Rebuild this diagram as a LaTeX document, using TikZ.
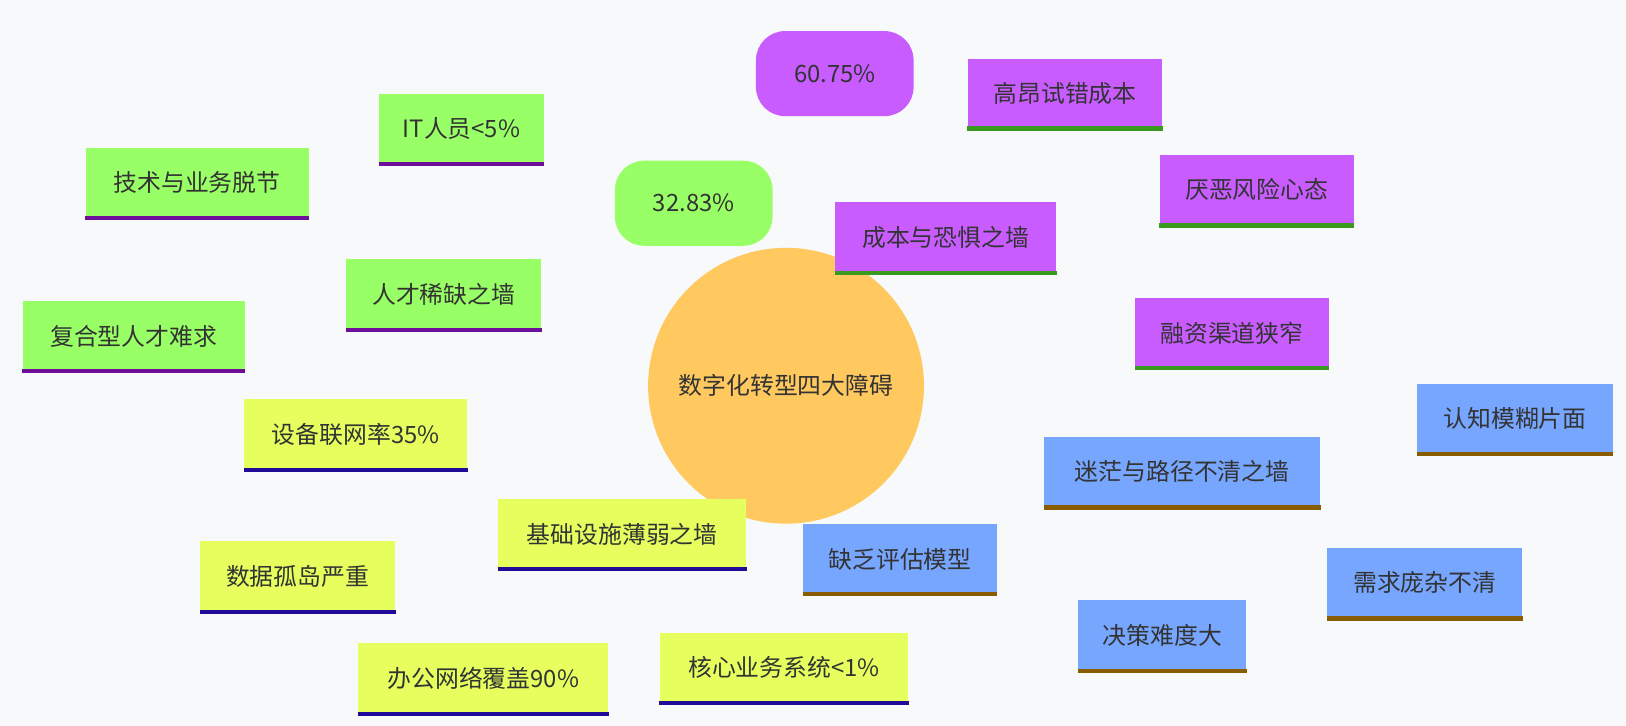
\documentclass[tikz,border=0pt]{standalone}
\usepackage{fontspec}
\setmainfont{Noto Sans CJK SC}
\usetikzlibrary{backgrounds}
\definecolor{bg}{HTML}{F8F9FA}
\definecolor{cG}{HTML}{99FF66}
\definecolor{cP}{HTML}{C85CFF}
\definecolor{cB}{HTML}{77A6FF}
\definecolor{cY}{HTML}{E6FF5F}
\definecolor{cC}{HTML}{FFC95F}
\definecolor{bG}{HTML}{6F0E99}
\definecolor{bP}{HTML}{3A9A1F}
\definecolor{bB}{HTML}{8A5C00}
\definecolor{bY}{HTML}{1F0A99}
\definecolor{txt}{HTML}{333333}
\newcommand\bx[8]{%
  \node[fill=#6,text=txt,inner sep=0pt,minimum width=#4*0.5pt,minimum height=#5*0.5pt,font=\fontsize{11.5}{13}\selectfont] (#1) at (#2,#3) {#8};
  \draw[#7,line width=2pt] (#1.south west)--(#1.south east);}
\newcommand\rb[6]{%
  \node[fill=#6,text=txt,inner sep=0pt,rounded corners=14pt,minimum width=#4*0.5pt,minimum height=#5*0.5pt,font=\fontsize{11.5}{13}\selectfont] (#1) at (#2,#3) {60.75\%};}
\begin{document}
\begin{tikzpicture}[x=0.5pt,y=-0.5pt]
\fill[bg] (0,0) rectangle (1568,700);
\useasboundingbox (0,0) rectangle (1568,700);
\node[circle,fill=cC,minimum size=133pt,inner sep=0pt,text=txt,font=\fontsize{11.5}{13}\selectfont] (c) at (758,372) {数字化转型四大障碍};
% green
\bx{g}{428}{284}{188}{68}{cG}{bG}{人才稀缺之墙}
\bx{g1}{190}{176}{215}{67}{cG}{bG}{技术与业务脱节}
\bx{g2}{445}{124}{159}{67}{cG}{bG}{IT人员<5\%}
\node[fill=cG,text=txt,inner sep=0pt,rounded corners=14pt,minimum width=76pt,minimum height=41pt,font=\fontsize{11.5}{13}\selectfont] (g3) at (669,196) {32.83\%};
\bx{g4}{129}{324}{214}{67}{cG}{bG}{复合型人才难求}
% purple
\bx{p}{912}{229}{213}{68}{cP}{bP}{成本与恐惧之墙}
\node[fill=cP,text=txt,inner sep=0pt,rounded corners=14pt,minimum width=76pt,minimum height=41pt,font=\fontsize{11.5}{13}\selectfont] (p1) at (805,71) {60.75\%};
\bx{p2}{1027}{90}{188}{67}{cP}{bP}{高昂试错成本}
\bx{p3}{1212}{183}{187}{68}{cP}{bP}{厌恶风险心态}
\bx{p4}{1188}{321}{187}{67}{cP}{bP}{融资渠道狭窄}
% blue
\bx{b}{1140}{455}{266}{68}{cB}{bB}{迷茫与路径不清之墙}
\bx{b1}{1461}{404}{189}{67}{cB}{bB}{认知模糊片面}
\bx{b2}{868}{539}{187}{67}{cB}{bB}{缺乏评估模型}
\bx{b3}{1121}{613}{162}{68}{cB}{bB}{决策难度大}
\bx{b4}{1374}{562}{188}{68}{cB}{bB}{需求庞杂不清}
% yellow
\bx{y}{600}{515}{239}{67}{cY}{bY}{基础设施薄弱之墙}
\bx{y1}{343}{419}{215}{68}{cY}{bY}{设备联网率35\%}
\bx{y2}{287}{556}{188}{68}{cY}{bY}{数据孤岛严重}
\bx{y3}{466}{654}{241}{68}{cY}{bY}{办公网络覆盖90\%}
\bx{y4}{756}{644}{240}{67}{cY}{bY}{核心业务系统<1\%}
\begin{scope}[on background layer,line cap=round]
\draw[cG,line width=9pt] (c.center)--(g.center);
\draw[cP,line width=9pt] (c.center)--(p.center);
\draw[cB,line width=9pt] (c.center)--(b.center);
\draw[cY,line width=9pt] (c.center)--(y.center);
\foreach \a/\col in {g1/cG,g2/cG,g3/cG,g4/cG}{\draw[\col,line width=6pt] (g.center)--(\a.center);}
\foreach \a/\col in {p1/cP,p2/cP,p3/cP,p4/cP}{\draw[\col,line width=6pt] (p.center)--(\a.center);}
\foreach \a/\col in {b1/cB,b2/cB,b3/cB,b4/cB}{\draw[\col,line width=6pt] (b.center)--(\a.center);}
\foreach \a/\col in {y1/cY,y2/cY,y3/cY,y4/cY}{\draw[\col,line width=6pt] (y.center)--(\a.center);}
\end{scope}
\end{tikzpicture}
\end{document}
